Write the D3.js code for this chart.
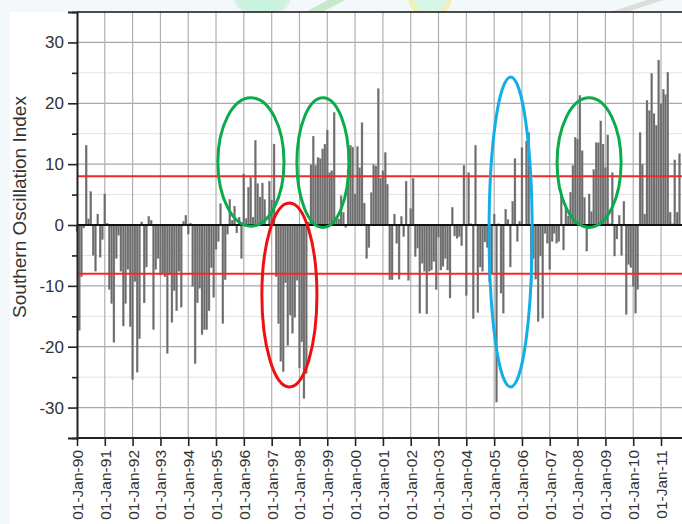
<!DOCTYPE html>
<html>
<head>
<meta charset="utf-8">
<script src="https://cdn.jsdelivr.net/npm/d3@7"></script>
<style>
  body { margin: 0; background: #f3f8fb; }
  svg { display: block; font-family: "Liberation Sans", Arial, sans-serif; }
</style>
</head>
<body>
<script>

// Monthly Southern Oscillation Index (BoM), one array per year, Jan..Dec
var soi1990 = [-1.1, -17.3, -8.5, -0.5, 13.1, 1.0, 5.5, -5.0, -7.6, 1.8, -5.3, -2.4];
var soi1991 = [5.1, 0.3, -10.6, -12.9, -19.3, -5.5, -1.7, -7.6, -16.6, -12.9, -7.3, -16.7];
var soi1992 = [-25.4, -9.3, -24.2, -18.7, 0.5, -12.8, -6.9, 1.4, 0.8, -17.2, -7.3, -5.5];
var soi1993 = [-8.2, -7.9, -8.5, -21.1, -8.2, -16.0, -10.8, -14.1, -7.6, -13.5, 0.6, 1.6];
var soi1994 = [-1.5, 0.3, -10.1, -22.8, -12.8, -10.4, -18.0, -17.2, -17.2, -14.1, -7.0, -11.9];
var soi1995 = [-4.0, -2.7, 3.5, -16.2, -9.0, -1.5, 4.2, 0.8, 3.1, -1.3, 1.3, -5.5];
var soi1996 = [8.4, 1.1, 6.2, 7.8, 1.3, 13.9, 6.8, 4.6, 6.9, 4.2, -0.1, 7.2];
var soi1997 = [4.1, 13.3, -8.5, -16.2, -22.4, -24.1, -9.5, -19.8, -14.8, -17.8, -15.2, -9.1];
var soi1998 = [-23.5, -19.2, -28.5, -24.4, 0.5, 9.9, 14.6, 9.8, 11.1, 10.9, 12.5, 13.3];
var soi1999 = [15.6, 8.6, 8.9, 18.5, 1.3, 1.0, 4.8, 2.1, -0.4, 9.1, 13.1, 12.8];
var soi2000 = [5.1, 12.9, 9.4, 16.8, 3.6, -5.5, -3.7, 5.3, 9.9, 9.7, 22.4, 7.7];
var soi2001 = [8.9, 11.9, 6.7, -9.0, -9.0, 1.8, -3.0, -8.9, 1.4, -1.9, 7.2, -9.1];
var soi2002 = [2.7, 7.7, -5.2, -3.8, -14.5, -6.3, -7.6, -14.6, -7.6, -7.4, -6.0, -10.6];
var soi2003 = [-2.0, -7.4, -6.8, -5.5, -7.4, -12.0, 2.9, -1.8, -2.2, -1.9, -3.4, 9.8];
var soi2004 = [-11.6, 8.6, 0.2, -15.4, 13.1, -14.4, -6.9, -7.6, -2.8, -3.7, -9.3, -8.0];
var soi2005 = [1.8, -29.1, 0.2, -11.2, -14.5, 2.6, 0.9, -6.9, 3.9, 10.9, -2.7, 0.6];
var soi2006 = [12.7, 0.1, 13.8, 15.2, -9.8, -5.5, -8.9, -15.9, -5.1, -15.3, -1.4, -3.0];
var soi2007 = [-7.3, -2.7, -1.4, -3.0, -2.7, 5.0, -4.1, 2.7, 1.5, 5.4, 9.8, 14.4];
var soi2008 = [14.1, 21.3, 12.2, 4.5, -4.3, 5.1, 2.2, 9.1, 13.5, 13.5, 17.1, 13.3];
var soi2009 = [9.4, 14.8, 0.2, 8.6, -5.1, -2.3, 1.6, -5.0, 3.9, -14.7, -6.5, -7.0];
var soi2010 = [-10.1, -14.5, -10.6, 15.2, 10.0, 1.8, 20.5, 18.8, 24.9, 18.3, 16.4, 27.1];
var soi2011 = [19.9, 22.3, 21.4, 25.1, 2.1, 0.2, 10.7, 2.1, 11.7];

var startYear = 1990;
var soiYears = [soi1990, soi1991, soi1992, soi1993, soi1994, soi1995, soi1996, soi1997,
                soi1998, soi1999, soi2000, soi2001, soi2002, soi2003, soi2004, soi2005,
                soi2006, soi2007, soi2008, soi2009, soi2010, soi2011];

// Year ticks on the x axis
var tickYears = d3.range(1990, 2012);
// Threshold lines
var thresholds = [8, -8];
// Highlighted periods: [start date, end date, top value, bottom value, colour]
var highlights = [
  ["1995-01-25", "1997-06-12", 20.9, -0.2, "#0aab4a"],
  ["1997-11-28", "1999-10-12", 20.9, -0.4, "#0aab4a"],
  ["1996-08-25", "1998-08-18", 3.6, -26.6, "#ee1111"],
  ["2004-10-26", "2006-05-15", 24.3, -26.6, "#12aee8"],
  ["2007-04-07", "2009-07-26", 20.9, -0.4, "#0aab4a"]
];

window.onload = drawChart();
function drawChart(){

  var width = 682,
      height = 524;

  var svg = d3.select("body")
      .append("svg")
      .attr("width", width)
      .attr("height", height);

  // Faint watermark shapes peeking above the chart panel
  var mark = svg.append("g");
  mark.append("ellipse").attr("cx", 262).attr("cy", -6).attr("rx", 28).attr("ry", 22)
      .attr("fill", "#c9f2df").attr("stroke", "#ddeee6").attr("stroke-width", 3);
  mark.append("path").attr("d", "M310,14 L348,-6").attr("stroke", "#c6e8cc").attr("stroke-width", 8);
  mark.append("circle").attr("cx", 430).attr("cy", -4).attr("r", 20)
      .attr("fill", "#d8f6e6").attr("stroke", "#f3f0b0").attr("stroke-width", 4);
  mark.append("path").attr("d", "M600,18 L680,-8").attr("stroke", "#dcdcdc").attr("stroke-width", 5);

  // White chart panel
  svg.append("rect")
      .attr("x", 10).attr("y", 12)
      .attr("width", width - 10).attr("height", height - 12)
      .attr("fill", "#ffffff");

  var left = 77, top = 12, bottom = 438;

  // Flatten the yearly arrays into monthly records
  var data = [];
  soiYears.forEach(function(vals, i){
    vals.forEach(function(v, m){
      data.push({ date: new Date(startYear + i, m, 1), value: v });
    });
  });

  var x = d3.scaleTime()
      .domain([new Date(1990, 0, 1), new Date(2011, 0, 1)])
      .range([left, 661]);

  var y = d3.scaleLinear()
      .domain([-35, 35])
      .range([bottom, top]);

  // Horizontal grid: minor every 5, major every 10
  svg.append("g").selectAll("line")
      .data(d3.range(-30, 35, 5).filter(function(d){ return d % 10 !== 0; }))
      .enter().append("line")
      .attr("x1", left).attr("x2", width)
      .attr("y1", function(d){ return y(d); }).attr("y2", function(d){ return y(d); })
      .attr("stroke", "#e2e2e2").attr("stroke-width", 1);

  svg.append("g").selectAll("line")
      .data([-30, -20, -10, 10, 20, 30])
      .enter().append("line")
      .attr("x1", left).attr("x2", width)
      .attr("y1", function(d){ return y(d); }).attr("y2", function(d){ return y(d); })
      .attr("stroke", "#a8a8a8").attr("stroke-width", 1.2);

  // Vertical grid on every year
  svg.append("g").selectAll("line")
      .data(tickYears.slice(1))
      .enter().append("line")
      .attr("x1", function(d){ return x(new Date(d, 0, 1)); })
      .attr("x2", function(d){ return x(new Date(d, 0, 1)); })
      .attr("y1", top).attr("y2", bottom)
      .attr("stroke", "#b0b0b0").attr("stroke-width", 1.2);

  // Monthly bars
  var step = x(new Date(1990, 1, 1)) - x(new Date(1990, 0, 1));
  svg.append("g").selectAll("rect")
      .data(data)
      .enter().append("rect")
      .attr("x", function(d){ return x(d.date) - step * 0.42; })
      .attr("width", step * 0.84)
      .attr("y", function(d){ return y(Math.max(0, d.value)); })
      .attr("height", function(d){ return Math.abs(y(d.value) - y(0)); })
      .attr("fill", "#6c6c6c")
      .attr("stroke", "#8a8a8a")
      .attr("stroke-width", 0.3);

  // Zero line
  svg.append("line")
      .attr("x1", left).attr("x2", width)
      .attr("y1", y(0)).attr("y2", y(0))
      .attr("stroke", "#111").attr("stroke-width", 2);

  // Red threshold lines
  svg.append("g").selectAll("line")
      .data(thresholds)
      .enter().append("line")
      .attr("x1", left).attr("x2", width)
      .attr("y1", function(d){ return y(d); }).attr("y2", function(d){ return y(d); })
      .attr("stroke", "#ef2a2a").attr("stroke-width", 2);

  // Top border
  svg.append("line")
      .attr("x1", left).attr("x2", width)
      .attr("y1", top).attr("y2", top)
      .attr("stroke", "#111").attr("stroke-width", 1.5);

  // Y axis with major and minor ticks
  var yMinor = d3.axisLeft(y)
      .tickValues([-35, -25, -15, -5, 5, 15, 25, 35])
      .tickSize(5).tickFormat("");
  svg.append("g")
      .attr("transform", "translate(" + left + ",0)")
      .call(yMinor)
      .call(function(g){ g.select(".domain").remove(); })
      .selectAll("line").attr("stroke", "#222").attr("stroke-width", 1.6);

  var yAxis = d3.axisLeft(y)
      .tickValues([-30, -20, -10, 0, 10, 20, 30])
      .tickSize(9).tickPadding(4)
      .tickFormat(function(d){ return String(d); });
  var yg = svg.append("g")
      .attr("transform", "translate(" + left + ",0)")
      .call(yAxis);
  yg.select(".domain").attr("stroke", "#222").attr("stroke-width", 2);
  yg.selectAll(".tick line").attr("stroke", "#222").attr("stroke-width", 1.6);
  yg.selectAll("text")
      .attr("font-size", 17)
      .attr("fill", "#333")
      .attr("font-family", "Liberation Sans, Arial, sans-serif");

  // X axis with rotated date labels
  var xAxis = d3.axisBottom(x)
      .tickValues(tickYears.map(function(d){ return new Date(d, 0, 1); }))
      .tickSize(8)
      .tickFormat(d3.timeFormat("01-Jan-%y"));
  var xg = svg.append("g")
      .attr("transform", "translate(0," + bottom + ")")
      .call(xAxis);
  xg.select(".domain").attr("d", "M" + left + ",0H" + width)
      .attr("stroke", "#222").attr("stroke-width", 2);
  xg.selectAll(".tick line").attr("stroke", "#222").attr("stroke-width", 1.6);
  xg.selectAll("text")
      .attr("font-size", 15.5)
      .attr("fill", "#333")
      .attr("font-family", "Liberation Sans, Arial, sans-serif")
      .attr("text-anchor", "end")
      .attr("dy", "0.35em")
      .attr("transform", "translate(0,4) rotate(-90)")
      .attr("x", -8)
      .attr("y", 0);

  // Y axis title
  svg.append("text")
      .attr("transform", "translate(26,207) rotate(-90)")
      .attr("text-anchor", "middle")
      .attr("font-size", 19)
      .attr("fill", "#333")
      .text("Southern Oscillation Index");

  // Hand drawn ellipses marking the episodes
  svg.append("g").selectAll("ellipse")
      .data(highlights)
      .enter().append("ellipse")
      .attr("cx", function(d){ return (x(new Date(d[0])) + x(new Date(d[1]))) / 2; })
      .attr("cy", function(d){ return (y(d[2]) + y(d[3])) / 2; })
      .attr("rx", function(d){ return (x(new Date(d[1])) - x(new Date(d[0]))) / 2; })
      .attr("ry", function(d){ return (y(d[3]) - y(d[2])) / 2; })
      .attr("fill", "none")
      .attr("stroke", function(d){ return d[4]; })
      .attr("stroke-width", 3);
};
</script>
</body>
</html>
